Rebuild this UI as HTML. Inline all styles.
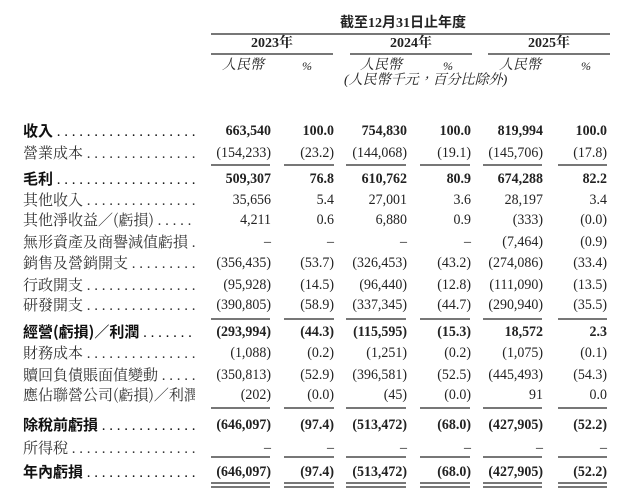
<!DOCTYPE html>
<html><head><meta charset="utf-8"><style>
body{margin:0;background:#fff;}
#c{position:relative;width:640px;height:504px;overflow:hidden;font-family:"Liberation Serif","Noto Serif CJK TC","Noto Serif CJK SC",serif;color:#222;font-size:15px;}
.t{position:absolute;white-space:nowrap;line-height:18px;}
.r{position:absolute;white-space:nowrap;line-height:18px;text-align:right;transform:scaleX(0.93);transform-origin:right center;}
.l{position:absolute;height:2px;background:#777;}
.b{font-weight:bold;}
.lab{position:absolute;left:23px;width:172px;white-space:nowrap;overflow:hidden;line-height:18px;font-size:15px;color:#333;}
.hd{font-family:"Liberation Serif","Noto Sans CJK TC",sans-serif;font-size:15px;}
</style></head><body><div id="c">
<div class="t hd b" style="left:340px;top:15px;font-size:14px">截至12月31日止年度</div>
<div class="l" style="left:211px;top:33px;width:399px"></div>
<div class="t b" style="left:251px;top:35px;font-size:14px">2023年</div>
<div class="t b" style="left:390px;top:35px;font-size:14px">2024年</div>
<div class="t b" style="left:528px;top:35px;font-size:14px">2025年</div>
<div class="l" style="left:211px;top:53px;width:122px"></div>
<div class="l" style="left:350px;top:53px;width:122px"></div>
<div class="l" style="left:488px;top:53px;width:122px"></div>
<div class="t" style="left:222px;top:57px;font-style:italic;font-size:14px">人民幣</div>
<div class="t" style="left:302px;top:57px;font-style:italic;font-size:12px">%</div>
<div class="t" style="left:360px;top:57px;font-style:italic;font-size:14px">人民幣</div>
<div class="t" style="left:443px;top:57px;font-style:italic;font-size:12px">%</div>
<div class="t" style="left:499px;top:57px;font-style:italic;font-size:14px">人民幣</div>
<div class="t" style="left:581px;top:57px;font-style:italic;font-size:12px">%</div>
<div class="t" style="left:344px;top:72px;font-style:italic;font-size:14px">(人民幣千元，百分比除外)</div>

<div id="rows"></div>
</div>
<script>
var rows=[
[131,"收入",1,["663,540","100.0","754,830","100.0","819,994","100.0"]],
[153,"營業成本",0,["(154,233)","(23.2)","(144,068)","(19.1)","(145,706)","(17.8)"]],
[179,"毛利",1,["509,307","76.8","610,762","80.9","674,288","82.2"]],
[200,"其他收入",0,["35,656","5.4","27,001","3.6","28,197","3.4"]],
[220,"其他淨收益／(虧損)",0,["4,211","0.6","6,880","0.9","(333)","(0.0)"]],
[242,"無形資產及商譽減值虧損",0,["–","–","–","–","(7,464)","(0.9)"]],
[263,"銷售及營銷開支",0,["(356,435)","(53.7)","(326,453)","(43.2)","(274,086)","(33.4)"]],
[285,"行政開支",0,["(95,928)","(14.5)","(96,440)","(12.8)","(111,090)","(13.5)"]],
[305,"研發開支",0,["(390,805)","(58.9)","(337,345)","(44.7)","(290,940)","(35.5)"]],
[332,"經營(虧損)／利潤",1,["(293,994)","(44.3)","(115,595)","(15.3)","18,572","2.3"]],
[353,"財務成本",0,["(1,088)","(0.2)","(1,251)","(0.2)","(1,075)","(0.1)"]],
[375,"贖回負債賬面值變動",0,["(350,813)","(52.9)","(396,581)","(52.5)","(445,493)","(54.3)"]],
[395,"應佔聯營公司(虧損)／利潤",0,["(202)","(0.0)","(45)","(0.0)","91","0.0"]],
[425,"除稅前虧損",1,["(646,097)","(97.4)","(513,472)","(68.0)","(427,905)","(52.2)"]],
[448,"所得稅",0,["–","–","–","–","–","–"]],
[472,"年內虧損",1,["(646,097)","(97.4)","(513,472)","(68.0)","(427,905)","(52.2)"]]
];
var right=[271,334,407,471,543,607];
var lines=[[211,59],[284,50],[346,60],[420,50],[483,59],[558,49]];
var dots=" ";for(var i=0;i<30;i++)dots+=". ";
var h="";
rows.forEach(function(r){
 var y=r[0]-9;
 h+='<div class="lab" style="top:'+y+'px'+(r[2]?';font-weight:bold;color:#111':'')+'"><span style="font-family:\'Noto Sans CJK TC\',sans-serif'+(r[2]?'':';font-family:\'Noto Serif CJK TC\',serif')+'">'+r[1]+'</span><span style="font-weight:normal">'+dots+'</span></div>';
 r[3].forEach(function(v,i){
  h+='<div class="r'+(r[2]?' b':'')+'" style="left:'+(right[i]-90)+'px;width:90px;top:'+y+'px">'+v+'</div>';
 });
});
function ln(y){lines.forEach(function(l){h+='<div class="l" style="left:'+l[0]+'px;width:'+l[1]+'px;top:'+y+'px"></div>';});}
ln(164);ln(318);ln(407);ln(456);ln(482);ln(486);
document.getElementById("rows").innerHTML=h;
</script>
</body></html>
